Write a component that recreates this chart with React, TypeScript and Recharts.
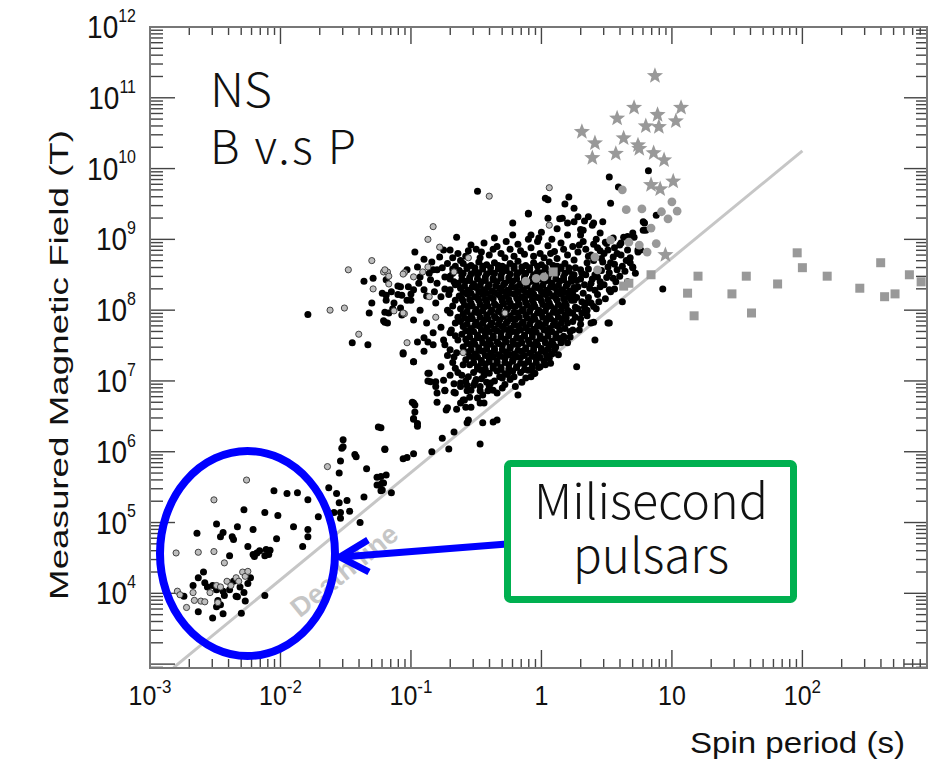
import React from 'react';
import { ScatterChart, Scatter, XAxis, YAxis } from 'recharts';

// all values are log10: [log10 P (s), log10 B (T)]
const normalPulsars: [number, number][] = [
  // millisecond pulsars
  [-2.64, 4.85], [-2.49, 4.98], [-2.46, 4.8], [-2.44, 4.86], [-2.37, 4.8], [-2.36, 4.76], [-2.33, 4.94], [-2.28, 5.18],
  [-2.21, 4.9], [-2.12, 5.14], [-2.05, 5.45], [-1.95, 5.41], [-1.87, 5.42], [-2.02, 5.1], [-1.9, 4.94], [-1.79, 5.32],
  [-1.79, 4.9], [-1.79, 4.8], [-1.83, 4.66], [-1.71, 5.08], [-2.03, 4.77], [-2.11, 4.62], [-2.08, 4.61], [-2.12, 4.53],
  [-2.18, 4.57], [-2.21, 4.55], [-2.25, 4.66], [-2.39, 4.53], [-2.63, 4.22], [-2.59, 4.3], [-2.58, 4.15], [-2.67, 4.11],
  [-2.74, 3.96], [-2.56, 4.09], [-2.52, 4.11], [-2.49, 4.05], [-2.44, 4.03], [-2.43, 3.97], [-2.39, 4.05], [-2.36, 4.17],
  [-2.34, 3.96], [-2.31, 4.09], [-2.28, 4.01], [-2.25, 4.14], [-2.23, 4.22], [-2.27, 3.89], [-2.33, 3.95], [-2.48, 3.9],
  [-2.46, 3.84], [-2.49, 3.81], [-2.63, 3.74], [-2.52, 3.65], [-2.44, 3.71], [-2.3, 3.72], [-2.12, 3.97], [-2.2, 4.52],
  [-2.16, 4.6], [-2.09, 4.55],
  // between MSPs and the main group
  [-1.54, 5.87], [-1.55, 5.7], [-1.53, 6.05], [-1.52, 6.17], [-1.63, 5.49], [-1.57, 5.41], [-1.55, 5.28], [-1.49, 5.31],
  [-1.59, 5.14], [-1.54, 5.14], [-1.54, 5.06], [-1.47, 5.16], [-1.39, 5.0], [-1.43, 5.96], [-1.42, 5.93], [-1.34, 5.76],
  [-1.25, 6.35], [-1.23, 6.34], [-1.2, 6.03], [-1.26, 5.64], [-1.26, 5.53], [-1.22, 5.56], [-1.19, 5.67], [-1.22, 5.46],
  [-1.15, 5.42], [-1.06, 5.9], [-1.03, 5.92], [-0.98, 5.97], [-0.84, 6.0], [-0.76, 6.19], [-0.71, 6.04], [-0.67, 6.28],
  [-0.98, 6.47], [-0.95, 6.4], [-0.47, 6.11], [-0.45, 6.41], [-0.37, 6.42], [-0.34, 6.45], [-1.36, 5.36], [-1.23, 5.65],
  [-1.24, 5.53], [-1.21, 5.56], [-1.23, 5.45],
  [-1.45, 7.54], [-1.33, 7.51], [-1.06, 7.38], [-0.98, 7.27], [-0.9, 7.42], [-0.95, 7.55], [-0.87, 7.55], [-0.83, 7.51],
  [-0.86, 7.11], [-0.87, 7.0], [-0.81, 6.99], [-0.75, 7.01], [-0.8, 6.83], [-0.74, 6.86], [-0.67, 6.96], [-0.67, 6.84],
  [-0.62, 6.92], [-0.61, 7.08], [-0.8, 6.7], [-0.73, 6.59], [-0.65, 6.6], [-0.62, 6.69], [-0.99, 6.7], [-0.97, 6.66],
  [-0.98, 6.46], [-0.95, 6.36], [-1.52, 6.07], [-1.2, 6.04], [-0.56, 6.45], [-0.47, 6.69], [-0.58, 6.63], [-0.59, 6.73],
  [-0.55, 6.77], [-0.49, 6.76], [-0.45, 6.8], [-0.41, 6.86], [-0.37, 6.87], [-0.57, 6.86], [-0.57, 6.94], [-0.51, 6.98],
  [-0.42, 6.98],
  // left side of the main group
  [-1.79, 7.94], [-1.36, 8.41], [-1.29, 8.45], [-1.1, 8.34], [-1.15, 8.26], [-1.19, 8.21], [-1.1, 8.22], [-1.07, 8.21],
  [-1.19, 8.14], [-1.03, 8.14], [-1.3, 8.1], [-1.32, 7.96], [-1.2, 7.97], [-1.17, 7.96], [-1.14, 8.02], [-1.08, 8.03],
  [-1.07, 7.93], [-1.21, 7.85], [-1.18, 7.82], [-1.02, 8.33], [-1.0, 8.23],
  [-1.22, 8.24], [-1.19, 8.43], [-1.2, 7.83], [-1.13, 8.1], [-1.08, 8.33], [-1.03, 8.57], [-0.97, 8.82], [-0.95, 8.61],
  [-0.93, 8.47], [-0.98, 8.29], [-1.0, 8.14], [-0.9, 8.29], [-0.85, 8.43], [-0.8, 8.57], [-0.93, 8.0], [-0.98, 7.86],
  [-0.88, 7.82], [-0.83, 7.68], [-0.9, 7.61], [-0.75, 7.58], [-1.06, 7.4], [-0.98, 7.27], [-0.87, 7.11], [-0.85, 6.99],
  [-0.81, 6.92], [-0.74, 6.87], [-0.66, 6.83], [-0.6, 6.73], [-0.54, 6.63], [-0.44, 6.69], [-0.98, 6.69], [-0.97, 6.56],
  [-0.72, 6.62], [-0.57, 6.41], [-0.65, 9.03], [-0.22, 9.23], [-0.1, 9.36], [-0.7, 8.85], [-0.75, 8.85], [-0.49, 9.68],
  [-0.83, 8.57], [-0.74, 8.47], [-0.8, 8.38], [-0.7, 8.29], [-0.77, 8.19], [-0.66, 8.14], [-0.81, 8.1], [-0.72, 8.0],
  [-0.64, 7.9], [-0.77, 7.76], [-0.7, 7.68], [-0.64, 7.58], [-0.74, 7.51], [-0.67, 7.34], [-0.6, 7.23], [-0.77, 7.2],
  [-0.7, 7.08], [-0.62, 6.97], [-0.54, 6.87], [-0.47, 6.92], [-0.39, 6.97], [-0.3, 7.04], [-0.21, 7.06], [-0.34, 6.83],
  [-0.18, 6.8], [-0.08, 7.06], [-0.01, 7.2], [0.07, 7.25], [0.13, 7.37], [0.2, 7.54], [0.24, 7.72], [0.26, 7.9],
  [0.38, 7.82], [0.41, 7.58], [0.51, 7.82], [0.4, 8.05], [0.31, 7.96], [0.27, 7.2], [0.52, 7.82], [0.4, 7.83],
  [0.35, 8.0], [0.29, 7.72], [0.25, 8.14], [0.3, 8.57], [0.35, 8.67], [0.25, 8.71],
  [-0.9, 8.72], [-0.84, 8.68], [-0.78, 8.75], [-0.72, 8.66], [-0.68, 8.74], [-0.62, 8.7], [-0.86, 8.52], [-0.76, 8.6],
  [-0.7, 8.44], [-0.66, 8.36], [-0.74, 8.3], [-0.68, 8.52], [-0.94, 8.38], [-0.88, 8.2], [-0.82, 8.26], [-0.66, 8.62],
  [-0.5, 7.02], [-0.44, 7.08], [-0.36, 7.0], [-0.28, 6.95], [-0.24, 7.02], [-0.15, 6.98], [-0.56, 7.06], [-0.64, 7.12],
  [-0.68, 8.58], [-0.7, 8.48], [-0.67, 8.4], [-0.71, 8.22], [-0.68, 8.06], [-0.7, 7.96], [-0.66, 7.82], [-0.69, 7.72],
  [-0.66, 7.64], [-0.7, 7.44], [-0.65, 7.4], [-0.72, 7.36], [-0.68, 7.26], [-0.66, 7.18],
  [-0.58, 7.0], [-0.52, 6.94], [-0.46, 7.03], [-0.4, 6.92], [-0.32, 7.06], [-0.26, 7.09], [-0.2, 6.92], [-0.12, 7.04],
  [-0.06, 7.1], [-0.47, 6.86], [-0.3, 6.9],
  // upper edge
  [-0.1, 9.37], [0.03, 9.58], [0.05, 9.56], [0.21, 9.6], [0.25, 9.44], [0.05, 9.3], [0.14, 9.29], [0.2, 9.23],
  [0.25, 9.25], [0.36, 9.32], [0.4, 9.23], [0.32, 9.13], [0.53, 9.51], [0.52, 9.88], [0.59, 9.74], [-0.08, 9.06],
  [-0.02, 9.02], [0.12, 9.15], [0.2, 9.06], [0.3, 9.06], [0.45, 9.09], [0.49, 8.96], [0.55, 9.02], [0.63, 9.03],
  [0.7, 9.09], [0.78, 9.25], [0.78, 9.13], [0.74, 8.85], [0.7, 8.61], [0.68, 8.74], [0.61, 8.78], [0.55, 8.75],
  [0.51, 8.61], [0.58, 8.57], [0.43, 8.47], [0.45, 8.33], [0.38, 8.38], [0.53, 8.26], [0.62, 8.12], [0.93, 8.3],
  [0.52, 8.29], [0.82, 9.97], [0.88, 9.34], [0.79, 9.23], [0.8, 9.13], [0.71, 9.03], [0.66, 9.04], [0.61, 8.95],
  [0.76, 8.85], [0.74, 8.82], [0.7, 8.6], [0.18, 9.5], [0.28, 9.32], [0.16, 9.3], [0.33, 9.26], [0.3, 9.14],
  [0.39, 9.2], [0.47, 9.25], [0.42, 9.0], [0.51, 8.85], [0.53, 8.67], [0.38, 8.78], [0.66, 8.85],
  [-0.64, 8.8], [-0.54, 8.92], [-0.5, 8.86], [-0.44, 8.95], [-0.4, 8.78], [-0.34, 8.9], [-0.31, 8.8], [-0.27, 8.97],
  [-0.24, 8.86], [-0.18, 8.93], [-0.13, 8.79], [-0.08, 8.88], [-0.03, 8.97], [-0.01, 8.8], [0.05, 8.91], [0.1, 8.83],
  [0.15, 8.95], [0.2, 8.78], [0.24, 8.9], [0.28, 8.82], [0.32, 8.97], [0.36, 8.76], [0.43, 8.88], [0.48, 8.8],
  [-0.58, 8.76], [-0.47, 8.74], [-0.21, 8.76], [0.02, 8.74], [0.12, 8.73],
  [-0.56, 8.84], [-0.46, 8.82], [-0.37, 8.86], [-0.28, 8.74], [-0.16, 8.84], [-0.06, 8.76], [0.07, 8.8], [0.17, 8.86],
  [-0.1, 9.0], [0.0, 9.1], [0.08, 9.0], [-0.36, 9.02], [-0.22, 9.06],
  // right side of the main group
  [0.26, 8.6], [0.31, 8.52], [0.36, 8.58], [0.41, 8.5], [0.46, 8.56], [0.27, 8.42], [0.33, 8.36], [0.39, 8.44],
  [0.45, 8.4], [0.5, 8.46], [0.26, 8.3], [0.32, 8.24], [0.37, 8.31], [0.43, 8.22], [0.49, 8.16], [0.27, 8.18],
  [0.34, 8.1], [0.26, 8.04], [0.31, 8.12], [0.22, 7.96], [0.24, 7.84], [0.3, 7.88], [0.22, 7.7], [0.57, 8.4],
  [0.6, 8.48], [0.64, 8.55], [0.56, 8.65], [0.47, 8.68], [0.4, 8.7], [0.66, 8.4], [0.72, 8.52], [0.2, 8.0],
  [0.23, 8.22], [0.25, 8.5],
  [0.29, 8.92], [0.34, 8.86], [0.4, 8.93], [0.45, 8.84], [0.5, 8.94], [0.56, 8.88], [0.6, 8.92], [0.65, 8.7],
  [0.58, 8.8], [0.46, 8.73], [0.52, 8.53], [0.55, 8.45], [0.62, 8.62], [0.68, 8.67], [0.48, 8.36], [0.56, 8.3],
  [0.41, 8.28], [0.36, 8.18], [0.44, 8.12], [0.3, 8.44], [0.34, 8.5], [0.28, 8.33],
  [0.18, 7.74], [0.2, 7.82], [0.24, 7.96], [0.28, 8.02], [0.33, 8.04], [0.38, 8.1], [0.3, 7.8], [0.35, 7.92],
  [0.42, 8.02], [0.17, 7.6], [0.22, 7.62],
  // dense core
  [-0.6, 8.66], [-0.54, 8.63], [-0.48, 8.68], [-0.42, 8.64], [-0.36, 8.67], [-0.3, 8.62], [-0.24, 8.66], [-0.18, 8.69],
  [-0.12, 8.63], [-0.06, 8.67], [0.0, 8.64], [0.06, 8.68], [0.12, 8.62], [0.18, 8.66],
  [-0.57, 8.61], [-0.51, 8.6], [-0.45, 8.62], [-0.39, 8.6], [-0.33, 8.63], [-0.27, 8.6], [-0.21, 8.62], [-0.15, 8.61],
  [-0.09, 8.6], [-0.03, 8.62], [0.03, 8.6], [0.09, 8.63], [0.15, 8.61], [0.21, 8.6],
  [-0.63, 8.56], [-0.57, 8.59], [-0.51, 8.55], [-0.45, 8.58], [-0.39, 8.54], [-0.33, 8.58], [-0.27, 8.56], [-0.21, 8.59],
  [-0.15, 8.55], [-0.09, 8.57], [-0.03, 8.54], [0.03, 8.58], [0.09, 8.56], [0.15, 8.59], [0.21, 8.55],
  [-0.6, 8.52], [-0.54, 8.51], [-0.48, 8.53], [-0.42, 8.51], [-0.36, 8.52], [-0.3, 8.54], [-0.24, 8.51], [-0.18, 8.53],
  [-0.12, 8.52], [-0.06, 8.5], [0.0, 8.53], [0.06, 8.51], [0.12, 8.53], [0.18, 8.52], [0.24, 8.5],
  [-0.61, 8.49], [-0.55, 8.46], [-0.49, 8.5], [-0.43, 8.47], [-0.37, 8.45], [-0.31, 8.49], [-0.25, 8.46], [-0.19, 8.5],
  [-0.13, 8.47], [-0.07, 8.45], [-0.01, 8.49], [0.05, 8.46], [0.11, 8.5], [0.17, 8.47], [0.23, 8.45],
  [-0.61, 8.43], [-0.55, 8.42], [-0.49, 8.44], [-0.43, 8.42], [-0.37, 8.43], [-0.31, 8.45], [-0.25, 8.42], [-0.19, 8.44],
  [-0.13, 8.43], [-0.07, 8.41], [-0.01, 8.44], [0.05, 8.42], [0.11, 8.44], [0.17, 8.43], [0.23, 8.41],
  [-0.64, 8.38], [-0.58, 8.41], [-0.52, 8.37], [-0.46, 8.4], [-0.4, 8.36], [-0.34, 8.4], [-0.28, 8.38], [-0.22, 8.41],
  [-0.16, 8.37], [-0.1, 8.39], [-0.04, 8.36], [0.02, 8.4], [0.08, 8.38], [0.14, 8.41], [0.2, 8.37],
  [-0.59, 8.34], [-0.53, 8.33], [-0.47, 8.35], [-0.41, 8.33], [-0.35, 8.34], [-0.29, 8.36], [-0.23, 8.33], [-0.17, 8.35],
  [-0.11, 8.34], [-0.05, 8.32], [0.01, 8.35], [0.07, 8.33], [0.13, 8.35], [0.19, 8.34], [0.25, 8.32],
  [-0.62, 8.31], [-0.56, 8.28], [-0.5, 8.32], [-0.44, 8.29], [-0.38, 8.27], [-0.32, 8.31], [-0.26, 8.28], [-0.2, 8.32],
  [-0.14, 8.29], [-0.08, 8.27], [-0.02, 8.31], [0.04, 8.28], [0.1, 8.32], [0.16, 8.29], [0.22, 8.27],
  [-0.6, 8.25], [-0.54, 8.24], [-0.48, 8.26], [-0.42, 8.24], [-0.36, 8.25], [-0.3, 8.27], [-0.24, 8.24], [-0.18, 8.26],
  [-0.12, 8.25], [-0.06, 8.23], [0.0, 8.26], [0.06, 8.24], [0.12, 8.26], [0.18, 8.25], [0.24, 8.23],
  [-0.63, 8.2], [-0.57, 8.23], [-0.51, 8.19], [-0.45, 8.22], [-0.39, 8.18], [-0.33, 8.22], [-0.27, 8.2], [-0.21, 8.23],
  [-0.15, 8.19], [-0.09, 8.21], [-0.03, 8.18], [0.03, 8.22], [0.09, 8.2], [0.15, 8.23], [0.21, 8.19],
  [-0.61, 8.16], [-0.55, 8.15], [-0.49, 8.17], [-0.43, 8.15], [-0.37, 8.16], [-0.31, 8.18], [-0.25, 8.15], [-0.19, 8.17],
  [-0.13, 8.16], [-0.07, 8.14], [-0.01, 8.17], [0.05, 8.15], [0.11, 8.17], [0.17, 8.16], [0.23, 8.14],
  [-0.6, 8.13], [-0.54, 8.1], [-0.48, 8.14], [-0.42, 8.11], [-0.36, 8.09], [-0.3, 8.13], [-0.24, 8.1], [-0.18, 8.14],
  [-0.12, 8.11], [-0.06, 8.09], [0.0, 8.13], [0.06, 8.1], [0.12, 8.14], [0.18, 8.11],
  [-0.59, 8.07], [-0.53, 8.06], [-0.47, 8.08], [-0.41, 8.06], [-0.35, 8.07], [-0.29, 8.09], [-0.23, 8.06], [-0.17, 8.08],
  [-0.11, 8.07], [-0.05, 8.05], [0.01, 8.08], [0.07, 8.06], [0.13, 8.08], [0.19, 8.07],
  [-0.62, 8.02], [-0.56, 8.05], [-0.5, 8.01], [-0.44, 8.04], [-0.38, 8.0], [-0.32, 8.04], [-0.26, 8.02], [-0.2, 8.05],
  [-0.14, 8.01], [-0.08, 8.03], [-0.02, 8.0], [0.04, 8.04], [0.1, 8.02], [0.16, 8.05],
  [-0.57, 7.98], [-0.51, 7.97], [-0.45, 7.99], [-0.39, 7.97], [-0.33, 7.98], [-0.27, 8.0], [-0.21, 7.97], [-0.15, 7.99],
  [-0.09, 7.98], [-0.03, 7.96], [0.03, 7.99], [0.09, 7.97], [0.15, 7.99], [0.21, 7.98],
  [-0.6, 7.95], [-0.54, 7.92], [-0.48, 7.96], [-0.42, 7.93], [-0.36, 7.91], [-0.3, 7.95], [-0.24, 7.92], [-0.18, 7.96],
  [-0.12, 7.93], [-0.06, 7.91], [0.0, 7.95], [0.06, 7.92], [0.12, 7.96], [0.18, 7.93],
  [-0.59, 7.89], [-0.53, 7.88], [-0.47, 7.9], [-0.41, 7.88], [-0.35, 7.89], [-0.29, 7.91], [-0.23, 7.88], [-0.17, 7.9],
  [-0.11, 7.89], [-0.05, 7.87], [0.01, 7.9], [0.07, 7.88], [0.13, 7.9], [0.19, 7.89],
  [-0.62, 7.84], [-0.56, 7.87], [-0.5, 7.83], [-0.44, 7.86], [-0.38, 7.82], [-0.32, 7.86], [-0.26, 7.84], [-0.2, 7.87],
  [-0.14, 7.83], [-0.08, 7.85], [-0.02, 7.82], [0.04, 7.86], [0.1, 7.84], [0.16, 7.87],
  [-0.57, 7.8], [-0.51, 7.79], [-0.45, 7.81], [-0.39, 7.79], [-0.33, 7.8], [-0.27, 7.82], [-0.21, 7.79], [-0.15, 7.81],
  [-0.09, 7.8], [-0.03, 7.78], [0.03, 7.81], [0.09, 7.79], [0.15, 7.81],
  [-0.6, 7.77], [-0.54, 7.74], [-0.48, 7.78], [-0.42, 7.75], [-0.36, 7.73], [-0.3, 7.77], [-0.24, 7.74], [-0.18, 7.78],
  [-0.12, 7.75], [-0.06, 7.73], [0.0, 7.77], [0.06, 7.74], [0.12, 7.78],
  [-0.58, 7.71], [-0.52, 7.7], [-0.46, 7.72], [-0.4, 7.7], [-0.34, 7.71], [-0.28, 7.73], [-0.22, 7.7], [-0.16, 7.72],
  [-0.1, 7.71], [-0.04, 7.69], [0.02, 7.72], [0.08, 7.7], [0.14, 7.72],
  [-0.61, 7.66], [-0.55, 7.69], [-0.49, 7.65], [-0.43, 7.68], [-0.37, 7.64], [-0.31, 7.68], [-0.25, 7.66], [-0.19, 7.69],
  [-0.13, 7.65], [-0.07, 7.67], [-0.01, 7.64], [0.05, 7.68], [0.11, 7.66],
  [-0.55, 7.62], [-0.49, 7.61], [-0.43, 7.63], [-0.37, 7.61], [-0.31, 7.62], [-0.25, 7.64], [-0.19, 7.61], [-0.13, 7.63],
  [-0.07, 7.62], [-0.01, 7.6], [0.05, 7.63], [0.11, 7.61], [0.17, 7.63],
  [-0.58, 7.59], [-0.52, 7.56], [-0.46, 7.6], [-0.4, 7.57], [-0.34, 7.55], [-0.28, 7.59], [-0.22, 7.56], [-0.16, 7.6],
  [-0.1, 7.57], [-0.04, 7.55], [0.02, 7.59], [0.08, 7.56], [0.14, 7.6],
  [-0.57, 7.53], [-0.51, 7.52], [-0.45, 7.54], [-0.39, 7.52], [-0.33, 7.53], [-0.27, 7.55], [-0.21, 7.52], [-0.15, 7.54],
  [-0.09, 7.53], [-0.03, 7.51], [0.03, 7.54], [0.09, 7.52], [0.15, 7.54],
  [-0.6, 7.48], [-0.54, 7.51], [-0.48, 7.47], [-0.42, 7.5], [-0.36, 7.46], [-0.3, 7.5], [-0.24, 7.48], [-0.18, 7.51],
  [-0.12, 7.47], [-0.06, 7.49], [0.0, 7.46], [0.06, 7.5], [0.11, 7.48],
  [-0.54, 7.44], [-0.48, 7.43], [-0.42, 7.45], [-0.36, 7.43], [-0.3, 7.44], [-0.24, 7.46], [-0.18, 7.43], [-0.12, 7.45],
  [-0.06, 7.44], [0.0, 7.42], [0.05, 7.45], [0.1, 7.44],
  [-0.57, 7.41], [-0.51, 7.38], [-0.45, 7.42], [-0.39, 7.39], [-0.33, 7.37], [-0.27, 7.41], [-0.21, 7.38], [-0.15, 7.42],
  [-0.09, 7.39], [-0.03, 7.37], [0.03, 7.41], [0.08, 7.38],
  [-0.55, 7.35], [-0.49, 7.34], [-0.43, 7.36], [-0.37, 7.34], [-0.31, 7.35], [-0.25, 7.37], [-0.19, 7.34], [-0.13, 7.36],
  [-0.07, 7.35], [-0.01, 7.33], [0.04, 7.36],
  [-0.58, 7.3], [-0.52, 7.33], [-0.46, 7.29], [-0.4, 7.32], [-0.34, 7.28], [-0.28, 7.32], [-0.22, 7.3], [-0.16, 7.33],
  [-0.1, 7.29], [-0.04, 7.31], [0.02, 7.28], [0.06, 7.32],
  [-0.52, 7.26], [-0.46, 7.25], [-0.4, 7.27], [-0.34, 7.25], [-0.28, 7.26], [-0.22, 7.28], [-0.16, 7.25], [-0.1, 7.27],
  [-0.04, 7.26],
  [-0.55, 7.23], [-0.49, 7.2], [-0.43, 7.24], [-0.37, 7.21], [-0.31, 7.19], [-0.25, 7.23], [-0.19, 7.2], [-0.13, 7.24],
  [-0.07, 7.21], [-0.02, 7.19], [0.03, 7.23],
  [-0.49, 7.17], [-0.43, 7.16], [-0.37, 7.18], [-0.31, 7.16], [-0.25, 7.17], [-0.19, 7.19], [-0.13, 7.16], [-0.07, 7.18],
  [-0.52, 7.12], [-0.46, 7.15], [-0.4, 7.11], [-0.34, 7.14], [-0.28, 7.1], [-0.22, 7.14], [-0.16, 7.12], [-0.1, 7.15],
  [-0.05, 7.11],
];

// light grey, outlined
const binaryPulsars: [number, number][] = [
  [-1.3, 8.7], [-1.48, 8.57], [-1.21, 8.54], [-1.18, 8.54], [-1.17, 8.48], [-1.05, 8.53], [-1.17, 8.37], [-1.29, 8.3],
  [-1.62, 8.0], [-1.51, 8.03], [-1.13, 7.99], [-1.05, 7.95], [-1.4, 7.66], [-1.03, 7.54], [-0.4, 9.61], [0.06, 9.73],
  [-0.83, 9.18], [-0.78, 8.89], [-0.67, 8.54], [-0.81, 7.9], [-0.6, 7.4], [-0.87, 9.0], [-1.2, 8.57], [-0.98, 8.47],
  [-0.91, 8.54], [-1.06, 8.51], [-0.87, 8.61], [-0.86, 8.19], [-1.06, 7.96], [-0.28, 7.96], [0.06, 9.2], [-0.56, 8.74],
  [-1.64, 5.79], [-2.26, 5.6], [-2.51, 5.32], [-2.8, 4.57], [-2.63, 4.58], [-2.51, 4.59], [-2.43, 4.43], [-2.79, 4.03],
  [-2.77, 3.98], [-2.67, 4.01], [-2.66, 3.9], [-2.61, 3.89], [-2.58, 3.88], [-2.72, 3.8], [-2.54, 4.01], [-2.49, 4.11],
  [-2.46, 4.09], [-2.41, 4.17], [-2.38, 4.11], [-2.34, 4.22], [-2.32, 4.17], [-2.29, 4.3], [-2.27, 4.24], [-2.25, 4.31],
  [-2.48, 3.87],
];

// mid grey dots
const greyDots: [number, number][] = [
  [0.62, 9.7], [0.65, 9.42], [0.77, 9.43], [1.0, 9.53], [1.04, 9.4], [0.97, 9.29], [0.92, 9.39], [0.84, 9.16],
  [0.75, 8.92], [0.88, 8.94], [0.81, 8.82], [0.53, 8.99], [0.67, 8.96], [0.41, 8.75], [0.43, 8.57], [-0.12, 8.41],
  [-0.04, 8.45], [0.02, 8.47],
];

const magnetars: [number, number][] = [
  [0.87, 11.31], [0.71, 10.86], [1.07, 10.86], [0.58, 10.71], [0.89, 10.76], [1.03, 10.67], [0.8, 10.6], [0.9, 10.59],
  [0.31, 10.52], [0.63, 10.43], [0.41, 10.36], [0.74, 10.33], [0.75, 10.28], [0.39, 10.15], [0.57, 10.21], [0.86, 10.22],
  [0.94, 10.12], [1.01, 9.82], [0.84, 9.77], [0.91, 9.71], [0.95, 8.78],
];

const longPeriod: [number, number][] = [
  [1.96, 8.81], [2.6, 8.67], [2.0, 8.6], [1.2, 8.48], [1.57, 8.48], [2.19, 8.48], [2.82, 8.5], [0.84, 8.5],
  [2.91, 8.4], [1.81, 8.37], [0.67, 8.38], [0.63, 8.34], [2.44, 8.31], [1.12, 8.24], [1.46, 8.23], [2.71, 8.23],
  [2.63, 8.19], [1.17, 7.92], [1.61, 7.96], [0.09, 8.54],
];

const deathLine: [number, number][] = [[-2.82, 2.95], [2.0, 10.25]];

const xMajor = [-3, -2, -1, 0, 1, 2];
const xTickLabels: [string, string][] = [['10', '-3'], ['10', '-2'], ['10', '-1'], ['1', ''], ['10', ''], ['10', '2']];
const yMajor = [3, 4, 5, 6, 7, 8, 9, 10, 11, 12];
const yTickLabels = ['', '4', '5', '6', '7', '8', '9', '10', '11', '12'];

const X_DOMAIN: [number, number] = [-3, 2.955];
const Y_DOMAIN: [number, number] = [2.945, 12];

const W = 932;
const H = 764;
const PLOT_LEFT = 150;
const PLOT_RIGHT = 927;
const PLOT_TOP = 27;
const PLOT_BOTTOM = 668;

const AXIS_FONT = '"Liberation Sans", Arial, Helvetica, sans-serif';
const NOTE_FONT = '"Noto Sans CJK JP", "Noto Sans", sans-serif';

function withMinors(majors: number[], lo: number, hi: number) {
  const out: number[] = [];
  for (const n of [majors[0] - 1, ...majors]) {
    if (n >= lo && n <= hi) out.push(n);
    for (let k = 2; k <= 9; k++) {
      const v = n + Math.log10(k);
      if (v >= lo && v <= hi) out.push(v);
    }
  }
  return Array.from(new Set(out)).sort((a, b) => a - b);
}

const xTicks = withMinors(xMajor, X_DOMAIN[0], X_DOMAIN[1]);
const yTicks = withMinors(yMajor, Y_DOMAIN[0], Y_DOMAIN[1]);

const toRows = (arr: [number, number][]) => arr.map(([p, b]) => ({ p, b }));

function XTick(props: any) {
  const { x, payload } = props;
  const i = xMajor.indexOf(payload.value);
  const major = i >= 0;
  return (
    <g>
      <line x1={x} x2={x} y1={PLOT_BOTTOM} y2={PLOT_BOTTOM - (major ? 18 : 9)} stroke="#444" strokeWidth={1.4} />
      <line x1={x} x2={x} y1={PLOT_TOP} y2={PLOT_TOP + (major ? 17 : 8)} stroke="#444" strokeWidth={1.4} />
      {major && (
        <g transform={`translate(${x},705) scale(1,1.12)`}>
          <text x={0} y={0} textAnchor="middle" fontSize={25} fill="#111" fontFamily={AXIS_FONT}>
            {xTickLabels[i][0]}
            {xTickLabels[i][1] && <tspan dy={-11} fontSize={17}>{xTickLabels[i][1]}</tspan>}
          </text>
        </g>
      )}
    </g>
  );
}

function YTick(props: any) {
  const { y, payload } = props;
  const i = yMajor.indexOf(payload.value);
  const major = i >= 0;
  return (
    <g>
      <line x1={PLOT_LEFT} x2={PLOT_LEFT + (major ? 25 : 13)} y1={y} y2={y} stroke="#444" strokeWidth={1.4} />
      <line x1={PLOT_RIGHT} x2={PLOT_RIGHT - (major ? 23 : 11)} y1={y} y2={y} stroke="#444" strokeWidth={1.4} />
      {major && yTickLabels[i] && (
        <g transform={`translate(136,${y + 11}) scale(1,1.15)`}>
          <text x={0} y={0} textAnchor="end" fontSize={28} fill="#111" fontFamily={AXIS_FONT}>
            10<tspan dy={-14} fontSize={16}>{yTickLabels[i]}</tspan>
          </text>
        </g>
      )}
    </g>
  );
}

const BlackDot = (p: any) => <circle cx={p.cx} cy={p.cy} r={3.5} fill="#000" />;
const OutlinedDot = (p: any) => <circle cx={p.cx} cy={p.cy} r={3.1} fill="#bdbdbd" stroke="#333" strokeWidth={0.9} />;
const GreyDot = (p: any) => <circle cx={p.cx} cy={p.cy} r={4.4} fill="#999" />;
const GreySquare = (p: any) => <rect x={p.cx - 4.5} y={p.cy - 4.5} width={9} height={9} fill="#999" />;
const GreyStar = (p: any) => {
  const pts: string[] = [];
  for (let k = 0; k < 10; k++) {
    const r = k % 2 === 0 ? 8.5 : 3.6;
    const a = -Math.PI / 2 + (k * Math.PI) / 5;
    pts.push(`${p.cx + r * Math.cos(a)},${p.cy + r * Math.sin(a)}`);
  }
  return <polygon points={pts.join(' ')} fill="#999" />;
};

export default function App() {
  return (
    <div style={{ position: 'absolute', left: 0, top: 0, width: W, height: H, background: '#fff' }}>
      <ScatterChart width={W} height={H} margin={{ top: PLOT_TOP, right: W - PLOT_RIGHT, bottom: 0, left: 0 }}>
        <XAxis
          type="number"
          dataKey="p"
          domain={X_DOMAIN}
          allowDataOverflow
          ticks={xTicks}
          interval={0}
          height={H - PLOT_BOTTOM}
          tick={<XTick />}
          tickLine={false}
          axisLine={false}
        />
        <YAxis
          type="number"
          dataKey="b"
          domain={Y_DOMAIN}
          allowDataOverflow
          ticks={yTicks}
          interval={0}
          width={PLOT_LEFT}
          tick={<YTick />}
          tickLine={false}
          axisLine={false}
        />
        <Scatter
          data={toRows(deathLine)}
          line={{ stroke: '#c6c6c6', strokeWidth: 3 }}
          lineType="joint"
          shape={() => <g />}
          isAnimationActive={false}
        />
        <Scatter data={toRows(normalPulsars)} shape={BlackDot} isAnimationActive={false} />
        <Scatter data={toRows(binaryPulsars)} shape={OutlinedDot} isAnimationActive={false} />
        <Scatter data={toRows(greyDots)} shape={GreyDot} isAnimationActive={false} />
        <Scatter data={toRows(longPeriod)} shape={GreySquare} isAnimationActive={false} />
        <Scatter data={toRows(magnetars)} shape={GreyStar} isAnimationActive={false} />
      </ScatterChart>

      <svg width={W} height={H} style={{ position: 'absolute', left: 0, top: 0, pointerEvents: 'none' }}>
        <rect x={PLOT_LEFT} y={PLOT_TOP} width={PLOT_RIGHT - PLOT_LEFT} height={PLOT_BOTTOM - PLOT_TOP} fill="none" stroke="#777" strokeWidth={2} />

        <text
          transform="translate(350,578) rotate(-39)"
          textAnchor="middle"
          fontSize={27}
          fontWeight="bold"
          fill="#c6c6c6"
          fontFamily={AXIS_FONT}
        >
          Death line
        </text>

        <ellipse cx={247.5} cy={553.5} rx={87.5} ry={102.5} fill="none" stroke="#0000ff" strokeWidth={8} />

        <line x1={507} y1={544} x2={342} y2={557} stroke="#0000ff" strokeWidth={7} />
        <polyline points="368,540 340,557 369,572" fill="none" stroke="#0000ff" strokeWidth={7} strokeLinejoin="miter" />

        <rect x={507.5} y={463.5} width={286} height={136} rx={3} fill="#fff" stroke="#00b050" strokeWidth={7} />
        <text x={651} y={519} textAnchor="middle" fontSize={48} fill="#111" fontFamily={NOTE_FONT} fontWeight={300} textLength={234} lengthAdjust="spacingAndGlyphs">
          Milisecond
        </text>
        <text x={651} y={573} textAnchor="middle" fontSize={48} fill="#111" fontFamily={NOTE_FONT} fontWeight={300} textLength={156} lengthAdjust="spacingAndGlyphs">
          pulsars
        </text>

        <text x={210} y={107} fontSize={46} fill="#111" fontFamily={NOTE_FONT} fontWeight={300} textLength={62} lengthAdjust="spacingAndGlyphs">NS</text>
        <text x={210} y={164} fontSize={46} fill="#111" fontFamily={NOTE_FONT} fontWeight={300} textLength={146} lengthAdjust="spacing">B v.s P</text>

        <text
          transform="translate(68,365) rotate(-90)"
          textAnchor="middle"
          fontSize={26}
          fill="#111"
          fontFamily={AXIS_FONT}
          textLength={470}
          lengthAdjust="spacingAndGlyphs"
        >
          Measured Magnetic Field (T)
        </text>
        <text x={690} y={753} fontSize={30} fill="#111" fontFamily={AXIS_FONT} textLength={215} lengthAdjust="spacingAndGlyphs">
          Spin period (s)
        </text>
      </svg>
    </div>
  );
}
